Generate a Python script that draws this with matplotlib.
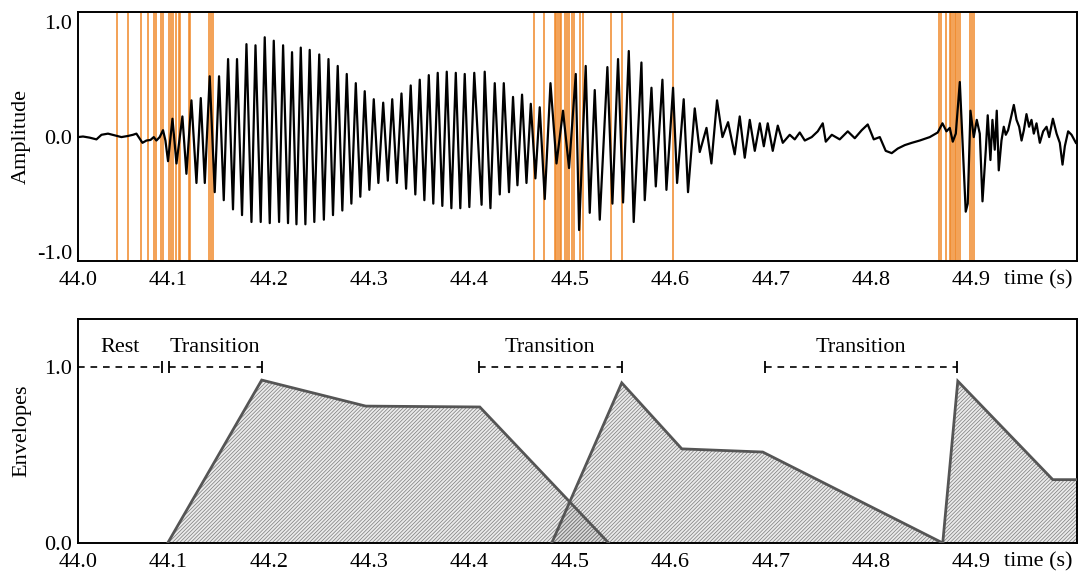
import matplotlib
matplotlib.use("Agg")
import matplotlib.pyplot as plt

plt.rcParams['font.family'] = ['Liberation Serif', 'DejaVu Serif']
plt.rcParams['hatch.linewidth'] = 0.5

# ---------------- data ----------------
# waveform turning points (time s, amplitude)
wave_t = [
    44.0101, 44.0150, 44.0217, 44.0284, 44.0334, 44.0399, 44.0466, 44.0533, 44.0599, 44.0648,
    44.0682, 44.0708, 44.0742, 44.0782, 44.0822, 44.0855, 44.0881, 44.0914, 44.0947, 44.0971,
    44.0997, 44.1041, 44.1081, 44.1140, 44.1180, 44.1230, 44.1280, 44.1323, 44.1363, 44.1412,
    44.1462, 44.1505, 44.1552, 44.1595, 44.1644, 44.1684, 44.1734, 44.1778, 44.1828, 44.1868,
    44.1920, 44.1960, 44.2010, 44.2050, 44.2103, 44.2143, 44.2192, 44.2232, 44.2276,
    44.2319, 44.2365, 44.2408, 44.2454, 44.2503, 44.2549, 44.2595, 44.2640, 44.2687, 44.2733,
    44.2777, 44.2823, 44.2867, 44.2912, 44.2956, 44.3002, 44.3046, 44.3092, 44.3140, 44.3186,
    44.3230, 44.3276, 44.3322, 44.3368, 44.3414, 44.3460, 44.3504, 44.3550, 44.3594, 44.3639,
    44.3683, 44.3729, 44.3773, 44.3819, 44.3863, 44.3908, 44.3952, 44.3998, 44.4047,
    44.4120, 44.4151, 44.4208, 44.4251, 44.4301, 44.4341, 44.4393, 44.4433, 44.4477, 44.4523,
    44.4567, 44.4610, 44.4656, 44.4699, 44.4749, 44.4806, 44.4866, 44.4931, 44.4991, 44.5058,
    44.5091, 44.5157, 44.5197, 44.5247, 44.5297, 44.5373, 44.5423, 44.5479, 44.5529, 44.5586,
    44.5635, 44.5712, 44.5745, 44.5812, 44.5855, 44.5921, 44.5961, 44.6027, 44.6067, 44.6133,
    44.6176, 44.6243, 44.6293, 44.6360, 44.6409, 44.6465, 44.6519, 44.6575,
    44.6641, 44.6691, 44.6741, 44.6791, 44.6841, 44.6891, 44.6931, 44.6970, 44.7020, 44.7070,
    44.7120, 44.7189, 44.7239, 44.7289, 44.7339, 44.7408, 44.7468, 44.7518, 44.7548, 44.7608,
    44.7687, 44.7767, 44.7837, 44.7906, 44.7966, 44.8026, 44.8086, 44.8145, 44.8205, 44.8265,
    44.8335, 44.8405, 44.8484, 44.8584, 44.8663,
    44.8710, 44.8750, 44.8783, 44.8813, 44.8843, 44.8883, 44.8912, 44.8942, 44.8962, 44.8989,
    44.9022, 44.9052, 44.9082, 44.9109, 44.9142, 44.9161, 44.9188, 44.9208, 44.9231, 44.9251,
    44.9271, 44.9298, 44.9321, 44.9341, 44.9364, 44.9398, 44.9421, 44.9448, 44.9474, 44.9498,
    44.9521, 44.9547, 44.9573, 44.9597, 44.9620, 44.9647, 44.9680, 44.9713, 44.9747, 44.9773,
    44.9810, 44.9847, 44.9879, 44.9906, 44.9929, 44.9962, 44.9996, 45.0039,
]
wave_a = [
    0.00, 0.005, -0.005, -0.02, 0.02, 0.03, 0.015, 0.00, 0.01, 0.02,
    0.03, -0.005, -0.05, -0.03, -0.025, 0.00, -0.03, 0.00, 0.06, -0.03,
    -0.21, 0.16, -0.23, 0.18, -0.32, 0.32, -0.40, 0.34, -0.40, 0.53,
    -0.48, 0.53, -0.55, 0.68, -0.63, 0.68, -0.68, 0.81, -0.74, 0.80,
    -0.74, 0.87, -0.75, 0.84, -0.74, 0.80, -0.75, 0.74, -0.76,
    0.78, -0.76, 0.76, -0.74, 0.72, -0.72, 0.68, -0.68, 0.62, -0.64,
    0.55, -0.58, 0.47, -0.52, 0.40, -0.46, 0.33, -0.40, 0.30, -0.38,
    0.33, -0.40, 0.38, -0.45, 0.45, -0.50, 0.50, -0.55, 0.54, -0.58,
    0.56, -0.60, 0.57, -0.62, 0.56, -0.62, 0.55, -0.61, 0.56,
    -0.59, 0.57, -0.62, 0.47, -0.50, 0.47, -0.48, 0.35, -0.42, 0.37,
    -0.40, 0.29, -0.36, 0.26, -0.54, 0.47, -0.23, 0.23, -0.27, 0.55,
    -0.81, 0.62, -0.66, 0.41, -0.72, 0.61, -0.58, 0.68, -0.57, 0.75,
    -0.74, 0.65, -0.55, 0.43, -0.43, 0.50, -0.46, 0.43, -0.40, 0.33,
    -0.48, 0.25, -0.13, 0.08, -0.23, 0.32, 0.00, 0.13,
    -0.15, 0.18, -0.18, 0.15, -0.12, 0.12, -0.08, 0.12, -0.12, 0.10,
    -0.05, 0.02, -0.02, 0.04, -0.03, 0.00, 0.05, 0.12, -0.04, 0.02,
    -0.02, 0.05, -0.01, 0.06, 0.11, -0.02, 0.00, -0.12, -0.14, -0.10,
    -0.07, -0.05, -0.03, 0.00, 0.04,
    0.12, 0.05, 0.08, -0.04, 0.03, 0.48, -0.08, -0.65, -0.58, 0.23,
    0.00, 0.15, 0.03, -0.56, -0.11, 0.19, -0.20, 0.15, -0.11, 0.23,
    -0.29, -0.03, 0.09, 0.02, 0.06, 0.19, 0.28, 0.15, 0.09, -0.03,
    0.06, 0.20, 0.09, 0.15, 0.03, 0.12, -0.05, 0.05, 0.09, 0.00,
    0.16, 0.03, -0.05, -0.24, -0.08, 0.05, 0.02, -0.05,
]

# onset markers (orange lines)
onsets = [
    44.0489, 44.0599, 44.0725, 44.0798, 44.0858, 44.0875, 44.0931, 44.0947, 44.1007, 44.1024,
    44.1047, 44.1081, 44.1104, 44.1114, 44.1203, 44.1220, 44.1405, 44.1422, 44.1445,
    44.4643, 44.4742, 44.4849, 44.4866, 44.4882, 44.4898, 44.4915, 44.4948, 44.4971, 44.4991,
    44.5021, 44.5038, 44.5105, 44.5131, 44.5413, 44.5519, 44.6027,
    44.8676, 44.8693, 44.8743, 44.8783, 44.8800, 44.8816, 44.8833, 44.8850, 44.8866, 44.8882,
    44.8989, 44.9009, 44.9022,
]

# envelopes
env1_t = [44.0994, 44.1930, 44.2966, 44.4102, 44.5386]
env1_y = [0.0, 0.926, 0.778, 0.773, 0.0]
env2_t = [44.4819, 44.5516, 44.6114, 44.6920, 44.8713]
env2_y = [0.0, 0.91, 0.535, 0.517, 0.0]
env3_t = [44.8713, 44.8863, 44.9809, 45.0050]
env3_y = [0.0, 0.92, 0.36, 0.36]

# segment annotations
seg_labels = ["Rest", "Transition", "Transition", "Transition"]
seg_start = [44.0100, 44.1004, 44.4092, 44.6940]
seg_end = [44.0940, 44.1930, 44.5516, 44.8853]
seg_left_cap = [False, True, True, True]

x_ticks = [44.01, 44.1, 44.2, 44.3, 44.4, 44.5, 44.6, 44.7, 44.8, 44.9, 44.9665]
x_ticklabels = ["44.0", "44.1", "44.2", "44.3", "44.4", "44.5", "44.6", "44.7", "44.8", "44.9", "time (s)"]

XLIM = (44.01, 45.005)

# ---------------- figure ----------------
fig = plt.figure(figsize=(10.8, 5.72), dpi=100)
ax1 = fig.add_axes([0.0722, 0.5437, 0.925, 0.4353])
ax2 = fig.add_axes([0.0722, 0.0507, 0.925, 0.3916])

for ax in (ax1, ax2):
    ax.set_xlim(*XLIM)
    ax.set_xticks(x_ticks)
    ax.set_xticklabels(x_ticklabels)
    ax.tick_params(length=0, labelsize=16)
    ax.tick_params(axis='x', pad=7)
    ax.tick_params(axis='y', pad=4)
    for s in ax.spines.values():
        s.set_linewidth(1.4)
        s.set_color('black')

# top: waveform
for t in onsets:
    ax1.axvline(t, color='#f0892a', lw=1.4, alpha=0.8, zorder=1)
ax1.plot(wave_t, wave_a, color='black', lw=1.6, zorder=3)
ax1.set_ylim(-1.08, 1.09)
ax1.set_yticks([-1.0, 0.0, 1.0])
ax1.set_yticklabels(["-1.0", "0.0", "1.0"])
ax1.set_ylabel("Amplitude", fontsize=16)
ax1.yaxis.set_label_coords(-0.047, 0.5)

# bottom: envelopes
for et, ey in ((env1_t, env1_y), (env2_t, env2_y), (env3_t, env3_y)):
    ax2.fill_between(et, ey, 0, facecolor=(0.6, 0.6, 0.6, 0.2), edgecolor='#7a7a7a',
                     hatch='/////////', linewidth=0, zorder=2)
    ax2.plot(et, ey, color='#555555', lw=2.0, zorder=3, solid_joinstyle='miter')

for lab, s, e, lc in zip(seg_labels, seg_start, seg_end, seg_left_cap):
    ax2.plot([s, e], [1.0, 1.0], color='black', lw=1.2, dashes=(4, 3.5), zorder=4)
    caps = [s, e] if lc else [e]
    ax2.plot(caps, [1.0] * len(caps), linestyle='none', marker='|', markersize=8,
             markeredgewidth=1.3, color='black', zorder=4)
    ax2.text((s + e) / 2, 1.11, lab, ha='center', va='center', fontsize=16)

ax2.set_ylim(0, 1.273)
ax2.set_yticks([0.0, 1.0])
ax2.set_yticklabels(["0.0", "1.0"])
ax2.set_ylabel("Envelopes", fontsize=16)
ax2.yaxis.set_label_coords(-0.047, 0.5)

fig.savefig("out.png", dpi=100)
